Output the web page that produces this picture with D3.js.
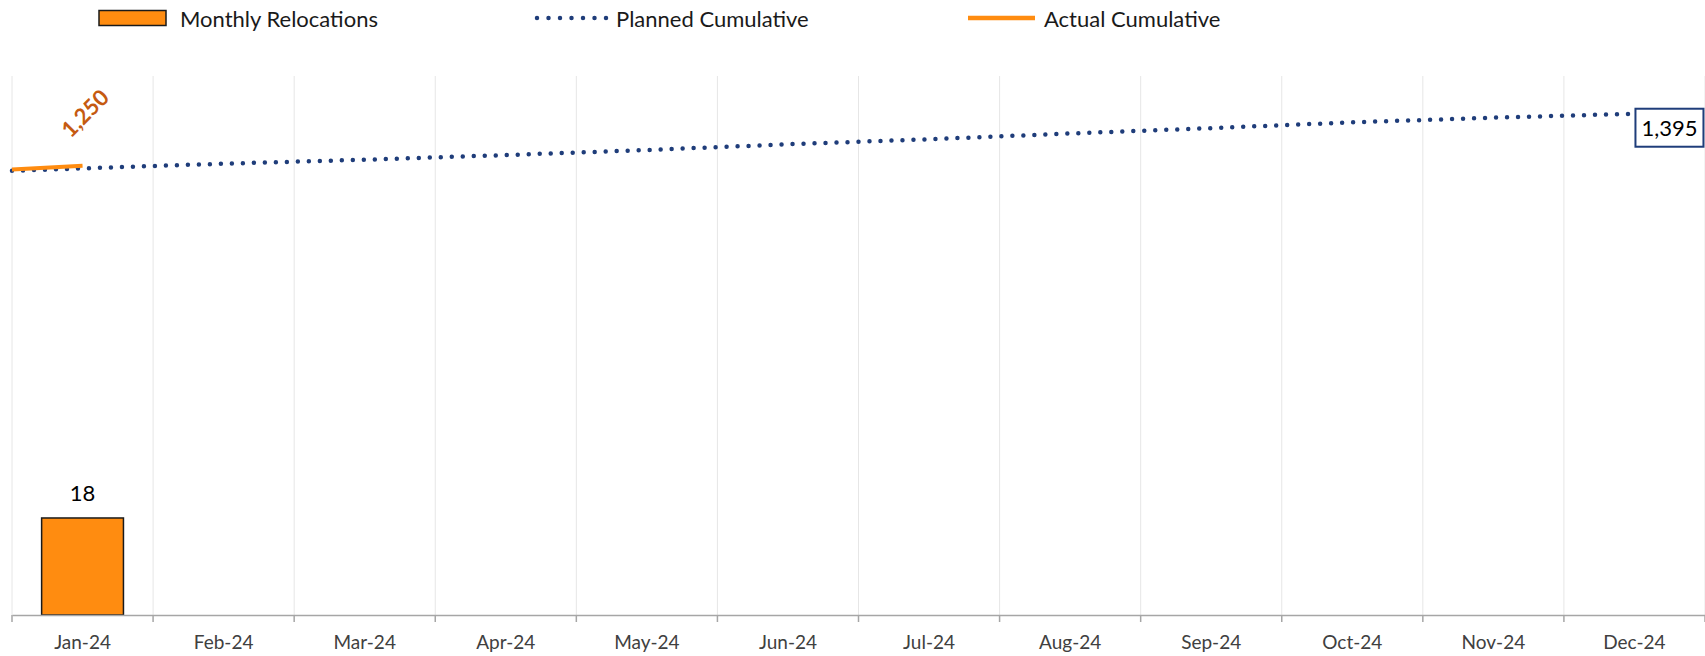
<!DOCTYPE html>
<html>
<head>
<meta charset="utf-8">
<script src="https://cdn.jsdelivr.net/npm/d3@7"></script>
<style>
  body { margin: 0; background: #fff; }
  svg { display: block; font-family: Lato, "Open Sans", sans-serif; }
</style>
</head>
<body>
<script>
// Data
const months = ['Jan-24', 'Feb-24', 'Mar-24', 'Apr-24', 'May-24', 'Jun-24',
    'Jul-24', 'Aug-24', 'Sep-24', 'Oct-24', 'Nov-24', 'Dec-24'];
const monthlyRelocations = [18];
// cumulative lines start from an opening value at the left edge of the plot
const plannedStart = 1236;
const plannedCumulative = [1243, 1256, 1267, 1280, 1294, 1310, 1324, 1340, 1355, 1371, 1384, 1395];
const actualStart = 1240;
const actualCumulative = [1250];

// Dimensions
const width = 1705;
const height = 656;
const plot = { left: 12, right: 1705, top: 76, bottom: 615 };

const navy = '#1f3d7a';
const orange = '#ff8c10';

const svg = d3.select('body')
    .append('svg')
    .attr('width', width)
    .attr('height', height);

// Scales
const xBand = d3.scaleBand()
    .domain(months)
    .range([plot.left, plot.right])
    .padding(0);

const xBar = d3.scaleBand()
    .domain(months)
    .range([plot.left, plot.right])
    .paddingInner(0.42)
    .paddingOuter(0.21);

const yBar = d3.scaleLinear()
    .domain([0, 100])
    .range([plot.bottom, plot.top]);

const yLine = d3.scaleLinear()
    .domain([0, 1500])
    .range([plot.bottom, plot.top]);

const center = m => xBand(m) + xBand.bandwidth() / 2;

// Vertical gridlines at category boundaries
const bounds = months.map(m => xBand(m)).concat([plot.right]);
svg.append('g')
    .selectAll('line')
    .data(bounds)
    .enter()
    .append('line')
    .attr('x1', d => d).attr('x2', d => d)
    .attr('y1', plot.top).attr('y2', plot.bottom)
    .attr('stroke', '#e6e6e6')
    .attr('stroke-width', 1);

// Bars
svg.append('g')
    .selectAll('rect')
    .data(monthlyRelocations)
    .enter()
    .append('rect')
    .attr('x', (d, i) => xBar(months[i]))
    .attr('y', d => yBar(d))
    .attr('width', xBar.bandwidth())
    .attr('height', d => yBar(0) - yBar(d))
    .attr('fill', orange)
    .attr('stroke', '#1a1a1a')
    .attr('stroke-width', 1.5);

svg.append('g')
    .selectAll('text')
    .data(monthlyRelocations)
    .enter()
    .append('text')
    .attr('x', (d, i) => center(months[i]))
    .attr('y', d => yBar(d) - 17)
    .attr('text-anchor', 'middle')
    .style('font-size', '22px')
    .style('fill', '#000')
    .text(d => d);

// X axis
const xAxis = svg.append('g')
    .attr('transform', `translate(0,${plot.bottom})`)
    .call(d3.axisBottom(xBand).tickSize(0).tickPadding(21));
xAxis.select('.domain').attr('stroke', '#a6a6a6').attr('stroke-width', 1.5);
xAxis.selectAll('text')
    .style('font-size', '19px')
    .style('fill', '#404040')
    .style('font-family', 'Lato, sans-serif');

svg.append('g')
    .selectAll('line')
    .data(bounds)
    .enter()
    .append('line')
    .attr('x1', d => d).attr('x2', d => d)
    .attr('y1', plot.bottom).attr('y2', plot.bottom + 7)
    .attr('stroke', '#a6a6a6')
    .attr('stroke-width', 1.5);

// Lines
const linePath = d3.line().x(d => d[0]).y(d => d[1]);

const plannedPts = [[plot.left, yLine(plannedStart)]]
    .concat(plannedCumulative.map((v, i) => [center(months[i]), yLine(v)]));
const actualPts = [[plot.left, yLine(actualStart)]]
    .concat(actualCumulative.map((v, i) => [center(months[i]), yLine(v)]));

svg.append('path')
    .attr('d', linePath(plannedPts))
    .attr('fill', 'none')
    .attr('stroke', navy)
    .attr('stroke-width', 4.5)
    .attr('stroke-linecap', 'round')
    .attr('stroke-dasharray', '0 11');

svg.append('path')
    .attr('d', linePath(actualPts))
    .attr('fill', 'none')
    .attr('stroke', orange)
    .attr('stroke-width', 4);

// Label on last actual point
const lastA = actualCumulative.length - 1;
svg.append('text')
    .attr('transform', `translate(${center(months[lastA]) + 2},${yLine(actualCumulative[lastA]) - 53}) rotate(-45)`)
    .attr('text-anchor', 'middle')
    .attr('dominant-baseline', 'central')
    .style('font-size', '22px')
    .style('font-weight', 'bold')
    .style('fill', '#c55a11')
    .text(d3.format(',')(actualCumulative[lastA]));

// Label on last planned point
const lastP = plannedCumulative.length - 1;
const px = center(months[lastP]);
const py = yLine(plannedCumulative[lastP]);
svg.append('rect')
    .attr('x', px + 1)
    .attr('y', py - 5)
    .attr('width', 68)
    .attr('height', 38)
    .attr('fill', '#fff')
    .attr('stroke', navy)
    .attr('stroke-width', 2);
svg.append('text')
    .attr('x', px + 35)
    .attr('y', py + 14)
    .attr('text-anchor', 'middle')
    .attr('dominant-baseline', 'central')
    .style('font-size', '22px')
    .style('fill', '#000')
    .text(d3.format(',')(plannedCumulative[lastP]));

// Legend
const legend = svg.append('g');
const legendY = 18;

legend.append('rect')
    .attr('x', 99).attr('y', legendY - 7.5)
    .attr('width', 67).attr('height', 15)
    .attr('fill', orange)
    .attr('stroke', '#1a1a1a')
    .attr('stroke-width', 1.5);
legend.append('text')
    .attr('x', 180).attr('y', legendY)
    .attr('dominant-baseline', 'central')
    .style('font-size', '22px')
    .style('fill', '#1a1a1a')
    .text('Monthly Relocations');

legend.append('line')
    .attr('x1', 537).attr('x2', 609)
    .attr('y1', legendY).attr('y2', legendY)
    .attr('stroke', navy)
    .attr('stroke-width', 4.5)
    .attr('stroke-linecap', 'round')
    .attr('stroke-dasharray', '0 11.5');
legend.append('text')
    .attr('x', 616).attr('y', legendY)
    .attr('dominant-baseline', 'central')
    .style('font-size', '22px')
    .style('fill', '#1a1a1a')
    .text('Planned Cumulative');

legend.append('line')
    .attr('x1', 968).attr('x2', 1035)
    .attr('y1', legendY).attr('y2', legendY)
    .attr('stroke', orange)
    .attr('stroke-width', 4.5);
legend.append('text')
    .attr('x', 1044).attr('y', legendY)
    .attr('dominant-baseline', 'central')
    .style('font-size', '22px')
    .style('fill', '#1a1a1a')
    .text('Actual Cumulative');
</script>
</body>
</html>
